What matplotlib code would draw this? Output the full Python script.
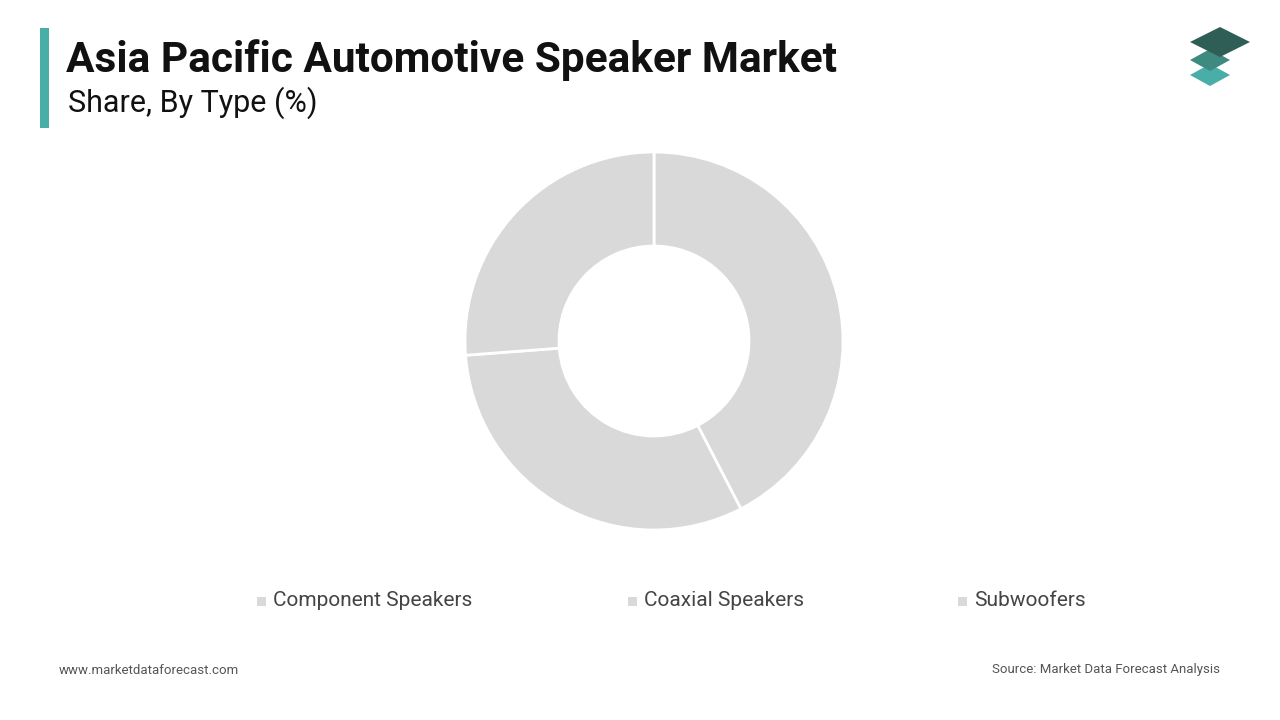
import matplotlib

matplotlib.use("Agg")
import matplotlib.pyplot as plt
from matplotlib.patches import Polygon, Rectangle

categories = ["Component Speakers", "Coaxial Speakers", "Subwoofers"]
shares = [42.4, 31.4, 26.2]

W, H = 1280, 720
fig = plt.figure(figsize=(W / 100, H / 100), dpi=100)
plt.rcParams["font.family"] = ["Roboto", "DejaVu Sans"]

# donut, centre (654, 341), outer radius 189 px
r = 189
ax = fig.add_axes([(654 - r) / W, 1 - (341 + r) / H, 2 * r / W, 2 * r / H])
ax.pie(shares, startangle=90, counterclock=False, colors=["#d9d9d9"] * 3, radius=1,
       wedgeprops=dict(width=94 / r, edgecolor="white", linewidth=2))
ax.set_xlim(-1, 1)
ax.set_ylim(-1, 1)
ax.set_aspect("equal")
ax.axis("off")

# header
fig.add_artist(Rectangle((40 / W, 1 - 128 / H), 9 / W, 100 / H, transform=fig.transFigure,
                         color="#4aaea8", lw=0))
fig.text(66 / W, 1 - 60 / H, "Asia Pacific Automotive Speaker Market", fontsize=30.5,
         weight="bold", va="center", color="#111111")
fig.text(68 / W, 1 - 103 / H, "Share, By Type (%)", fontsize=22, va="center", color="#111111")

# logo
for cy, col in [(75, "#4aaea8"), (60, "#3f8a80"), (42, "#2f5e57")]:
    pts = [(1190, cy), (1220, cy - 15), (1250, cy), (1220, cy + 15)] if cy == 42 else \
          [(1190, cy), (1210, cy - 11), (1230, cy), (1210, cy + 11)]
    fig.add_artist(Polygon([(x / W, 1 - y / H) for x, y in pts], closed=True,
                           transform=fig.transFigure, color=col, lw=0))

# legend
for x, label in zip([257, 628, 958], categories):
    fig.add_artist(Rectangle((x / W, 1 - 606 / H), 9 / W, 9 / H, transform=fig.transFigure,
                             color="#d9d9d9", lw=0))
    fig.text((x + 16) / W, 1 - 601 / H, label, fontsize=15, va="center", color="#444444")

fig.text(59 / W, 1 - 670 / H, "www.marketdataforecast.com", fontsize=9.5, va="center", color="#555555")
fig.text(1220 / W, 1 - 670 / H, "Source: Market Data Forecast Analysis", fontsize=9.5,
         va="center", ha="right", color="#555555")

fig.savefig("out.png", dpi=100, facecolor="white")
